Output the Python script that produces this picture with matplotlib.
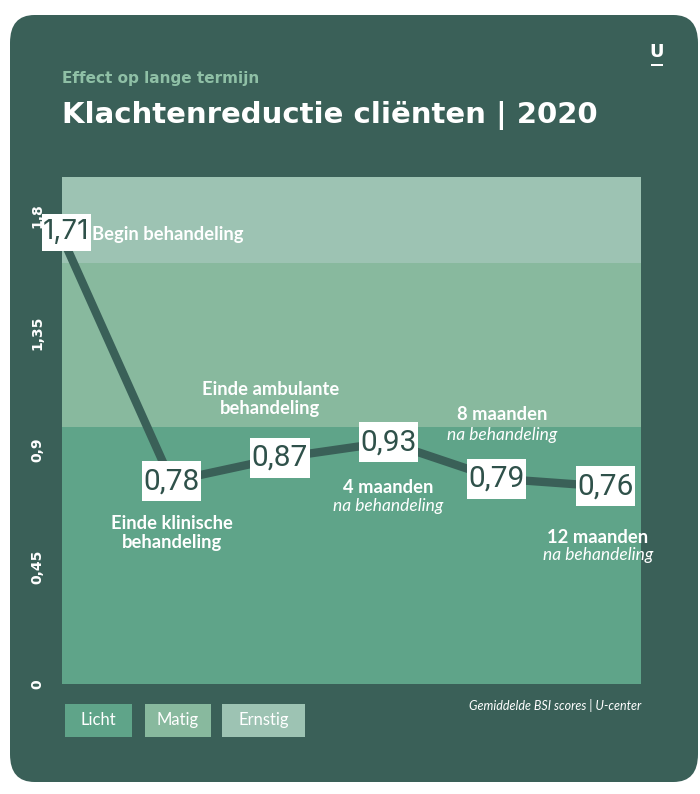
import matplotlib
matplotlib.use("Agg")
import matplotlib.pyplot as plt
from matplotlib.patches import FancyBboxPatch, Rectangle
from matplotlib.path import Path

# data
stages = ["Begin behandeling", "Einde klinische\nbehandeling", "Einde ambulante\nbehandeling",
          "4 maanden", "8 maanden", "12 maanden"]
scores = [1.71, 0.78, 0.87, 0.93, 0.79, 0.76]
value_labels = ["1,71", "0,78", "0,87", "0,93", "0,79", "0,76"]
ytick_vals = [0, 0.45, 0.9, 1.35, 1.8]
ytick_labels = ["0", "0,45", "0,9", "1,35", "1,8"]
bands = [("Licht", 0, 0.99), ("Matig", 0.99, 1.62), ("Ernstig", 1.62, 1.95)]

BG = "#3a6058"
band_colors = {"Licht": "#5fa489", "Matig": "#88b99e", "Ernstig": "#9dc3b3"}
W, H = 700, 794


def label_box(x0, y0, width, height, mutation_size):
    # white box, a bit more padding top/bottom than left/right
    px, py = 0.05 * mutation_size, 0.2 * mutation_size
    x0, y0 = x0 - px, y0 - py
    x1, y1 = x0 + width + 2 * px, y0 + height + 2 * py
    return Path([(x0, y0), (x1, y0), (x1, y1), (x0, y1), (x0, y0)], closed=True)


fig = plt.figure(figsize=(7, 7.94), dpi=100)
fig.patch.set_facecolor("white")

# rounded card behind everything
card = FancyBboxPatch((10 / W, 1 - 782 / H), 688 / W, 767 / H,
                      boxstyle="round,pad=0,rounding_size=0.035",
                      transform=fig.transFigure, facecolor=BG, edgecolor="none", zorder=-10)
fig.patches.append(card)

ax = fig.add_axes([62 / W, 1 - 684 / H, (641 - 62) / W, (684 - 177) / H])
ax.set_zorder(5)
ax.set_facecolor("none")
x = list(range(len(scores)))
ax.set_xlim(-0.01, 5.33)
ax.set_ylim(0, 1.95)

for name, lo, hi in bands:
    ax.axhspan(lo, hi, color=band_colors[name], zorder=0, lw=0)

ax.plot(x, scores, color=BG, lw=6, solid_capstyle="butt", zorder=2)

for xi, yi, lab in zip(x, scores, value_labels):
    first = xi == 0
    ax.text(xi + (0.03 if first else 0), yi + (0.028 if first else 0), lab,
            ha="center", va="center",
            fontsize=20 if first else 21.5, family="Inter" if first else "Roboto",
            color="#2f514a", zorder=3,
            bbox=dict(boxstyle=label_box, fc="white", ec="none"))

for s in ax.spines.values():
    s.set_visible(False)
ax.set_xticks([])
ax.set_yticks(ytick_vals)
ax.set_yticklabels(ytick_labels, rotation=90, va="center", color="white",
                   fontsize=10, fontweight="bold")
ax.tick_params(axis="y", length=0, pad=13)

# stage annotations
wb = dict(color="white", fontweight="bold", fontsize=13.2, family="Lato")
wi = dict(color="white", fontstyle="italic", fontsize=12.5, family="Lato")
ax.text(0.27, 1.73, stages[0], ha="left", va="center", **wb)
ax.text(1.0, 0.58, stages[1], ha="center", va="center", linespacing=1.15, **wb)
ax.text(1.91, 1.095, stages[2], ha="center", va="center", linespacing=1.15, **wb)
ax.text(3.0, 0.754, stages[3], ha="center", va="center", **wb)
ax.text(3.0, 0.685, "na behandeling", ha="center", va="center", **wi)
ax.text(4.05, 1.035, stages[4], ha="center", va="center", **wb)
ax.text(4.05, 0.958, "na behandeling", ha="center", va="center", **wi)
ax.text(4.93, 0.565, stages[5], ha="center", va="center", **wb)
ax.text(4.93, 0.496, "na behandeling", ha="center", va="center", **wi)

# titles
fig.text(62 / W, 1 - 79 / H, "Effect op lange termijn", color="#8fc0a6",
         fontsize=11, fontweight="bold", va="center")
fig.text(62 / W, 1 - 115 / H, "Klachtenreductie cliënten | 2020", color="white",
         fontsize=21, fontweight="bold", va="center")
fig.text(657 / W, 1 - 52 / H, "U", color="white", fontsize=13, fontweight="bold",
         ha="center", va="center")
fig.patches.append(Rectangle((651 / W, 1 - 66 / H), 12 / W, 2 / H,
                             transform=fig.transFigure, fc="white", ec="none"))

# legend boxes
legend_boxes = [("Licht", 65, 132), ("Matig", 145, 211), ("Ernstig", 222, 305)]
for name, x0, x1 in legend_boxes:
    fig.patches.append(Rectangle((x0 / W, 1 - 737 / H), (x1 - x0) / W, 33 / H,
                                 transform=fig.transFigure, fc=band_colors[name], ec="none"))
    fig.text((x0 + x1) / 2 / W, 1 - 720 / H, name, color="white", fontsize=12,
             family="Lato", ha="center", va="center")

fig.text(641 / W, 1 - 705 / H, "Gemiddelde BSI scores | U-center", color="white",
         fontsize=9, fontstyle="italic", family="Lato", ha="right", va="center")

fig.savefig("out.png", dpi=100, facecolor="white")
